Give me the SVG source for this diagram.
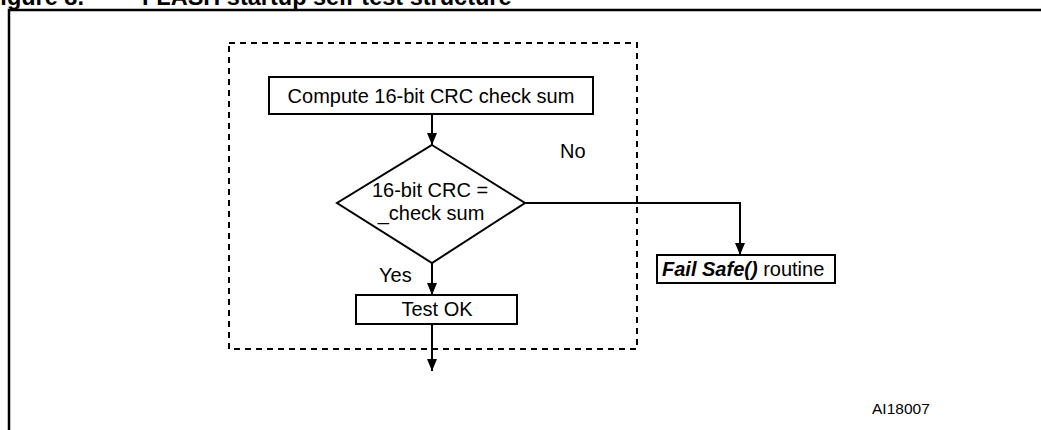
<svg xmlns="http://www.w3.org/2000/svg" width="1041" height="430" viewBox="0 0 1041 430">
  <style>
    text { font-family: "Liberation Sans", Arial, sans-serif; fill: #000; }
    .lbl { font-size: 20px; }
    .mid { text-anchor: middle; }
    .cap { font-size: 23.5px; font-weight: bold; }
    .box { fill: #fff; stroke: #000; stroke-width: 2; }
    .flow { fill: none; stroke: #000; stroke-width: 2; }
    .frame { fill: none; stroke: #000; stroke-width: 2.5; }
    .group { fill: none; stroke: #000; stroke-width: 2; stroke-dasharray: 6 5; }
  </style>
  <defs>
    <marker id="arrow" viewBox="0 0 12 12" refX="12" refY="6" markerWidth="12" markerHeight="12" markerUnits="userSpaceOnUse" orient="auto">
      <path d="M0,1 L12,6 L0,11 Z" fill="#000"/>
    </marker>
  </defs>

  <!-- figure caption (top edge) -->
  <text class="cap" x="-14" y="5">Figure 8.</text>
  <text class="cap" x="142" y="5">FLASH startup self-test structure</text>

  <!-- figure frame -->
  <path class="frame" d="M9,430 V10 H1041"/>

  <!-- self-test boundary -->
  <rect id="selftest-boundary" class="group" x="229" y="43" width="408" height="306"/>

  <!-- connectors -->
  <g id="connectors">
    <line class="flow" x1="432" y1="114" x2="432" y2="145" marker-end="url(#arrow)"/>
    <polyline class="flow" points="525,203 740,203 740,255" marker-end="url(#arrow)"/>
    <line class="flow" x1="432" y1="263" x2="432" y2="295" marker-end="url(#arrow)"/>
    <line class="flow" x1="432" y1="324" x2="432" y2="371" marker-end="url(#arrow)"/>
    <text class="lbl" x="560" y="158">No</text>
    <text class="lbl" x="379" y="282">Yes</text>
  </g>

  <g id="compute-crc">
    <rect class="box" x="269" y="77" width="324" height="37"/>
    <text class="lbl mid" x="431" y="103">Compute 16-bit CRC check sum</text>
  </g>

  <g id="crc-compare">
    <polygon class="box" points="432,145 525,203 432,263 337,203"/>
    <text class="lbl mid" x="430" y="197">16-bit CRC =</text>
    <text class="lbl mid" x="431" y="220">_check sum</text>
  </g>

  <g id="test-ok">
    <rect class="box" x="356" y="295" width="161" height="29"/>
    <text class="lbl mid" x="437" y="316">Test OK</text>
  </g>

  <g id="fail-safe">
    <rect class="box" x="657" y="255" width="178" height="28"/>
    <text class="lbl" x="662" y="276"><tspan font-weight="bold" font-style="italic">Fail Safe()</tspan> routine</text>
  </g>

  <text x="872" y="414" style="font-size:15.5px">AI18007</text>
</svg>
